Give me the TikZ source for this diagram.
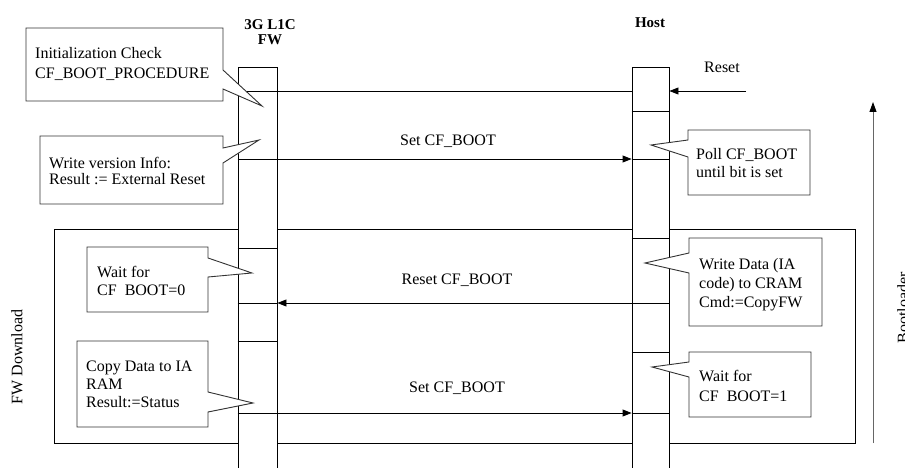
\documentclass[tikz,border=0pt]{standalone}
\usepackage{fontspec}
\setmainfont{Liberation Serif}
\usetikzlibrary{arrows.meta}
\begin{document}
\begin{tikzpicture}[x=1pt,y=-1pt,
  ln/.style={draw=black,line width=0.9pt},
  msg/.style={ln,-{Triangle[length=9pt,width=7pt]}},
  lifebox/.style={draw=black,fill=white,line width=0.9pt,inner sep=0pt,anchor=north,minimum height=420pt},
  callout/.style={draw=black!80,fill=white,line width=0.9pt,line join=miter},
  txt/.style={font=\fontsize{16}{19}\selectfont,inner sep=0pt,anchor=base west},
  lbl/.style={font=\fontsize{16}{19}\selectfont,inner sep=0pt,anchor=base},
  ttl/.style={font=\bfseries\fontsize{15}{17}\selectfont,inner sep=0pt,anchor=base}]
\useasboundingbox (0,0) rectangle (905,468);
\clip (0,0) rectangle (905,468);
\fill[white] (0,0) rectangle (905,468);

% FW Download frame
\draw[ln] (54,229) rectangle (855,443);

% lifelines
\node[lifebox,minimum width=39pt] (fw) at (257.5,67) {};
\node[lifebox,minimum width=37pt] (host) at (650.5,67) {};

% divisions inside lifelines
\foreach \yy in {248,303,341}
  \draw[ln] (fw.west |- 0,\yy) -- (fw.east |- 0,\yy);
\foreach \yy in {111,159,238,303,352,413}
  \draw[ln] (host.west |- 0,\yy) -- (host.east |- 0,\yy);

% titles
\node[ttl] (t1) at (270,30) {3G L1C};
\node[ttl] (t2) at (270,45) {FW};
\node[ttl] (t3) at (650,28) {Host};

% messages
\coordinate (rst) at (746,91);
\draw[msg] (rst) -- (host.east |- rst);
\node[lbl] (lrst) at (722,73) {Reset};
\draw[ln] (host.west |- rst) -- (fw.west |- rst);

\draw[msg] (fw.west |- 0,159) -- (host.west |- 0,159);
\node[lbl] (l1) at (448,146) {Set CF\_BOOT};

\draw[msg] (host.west |- 0,303) -- (fw.east |- 0,303);
\node[lbl] (l2) at (457,284) {Reset CF\_BOOT};

\draw[msg] (fw.west |- 0,413) -- (host.west |- 0,413);
\node[lbl] (l3) at (457,392) {Set CF\_BOOT};

% callouts
\draw[callout] (26,28) -- (223,28) -- (223,70) -- (262,106) -- (223,89) -- (223,101) -- (26,101) -- cycle;
\node[txt] (a1) at (35,59) {Initialization Check};
\node[txt] (a2) at (35,79) {CF\_BOOT\_PROCEDURE};

\draw[callout] (40,136) -- (223,136) -- (223,148) -- (259,140) -- (223,163) -- (223,204) -- (40,204) -- cycle;
\node[txt] (b1) at (49,168) {Write version Info:};
\node[txt] (b2) at (49,185) {Result := External Reset};

\draw[callout] (688,130) -- (810,130) -- (810,195) -- (688,195) -- (688,157) -- (651,145) -- (688,140) -- cycle;
\node[txt] (c1) at (696,160) {Poll CF\_BOOT};
\node[txt] (c2) at (696,177) {until bit is set};

\draw[callout] (87,247) -- (208,247) -- (208,258) -- (252,273) -- (208,277) -- (208,312) -- (87,312) -- cycle;
\node[txt] (d1) at (97,277) {Wait for};
\node[txt] (d2) at (97,295) {CF\ \ BOOT=0};

\draw[callout] (77,341) -- (208,341) -- (208,392) -- (253,403) -- (208,412) -- (208,427) -- (77,427) -- cycle;
\node[txt] (e1) at (86,371) {Copy Data to IA};
\node[txt] (e2) at (86,389) {RAM};
\node[txt] (e3) at (86,407) {Result:=Status};

\draw[callout] (689,238) -- (822,238) -- (822,326) -- (689,326) -- (689,273) -- (645,263) -- (689,253) -- cycle;
\node[txt] (f1) at (699,269) {Write Data (IA};
\node[txt] (f2) at (699,288) {code) to CRAM};
\node[txt] (f3) at (699,307) {Cmd:=CopyFW};

\draw[callout] (689,352) -- (811,352) -- (811,417) -- (689,417) -- (689,377) -- (652,367) -- (689,362) -- cycle;
\node[txt] (g1) at (699,381) {Wait for};
\node[txt] (g2) at (699,401) {CF\ \ BOOT=1};

% side labels
\node[font=\fontsize{16}{19}\selectfont,inner sep=0pt,rotate=90,anchor=center] (fwdl) at (17,357) {FW Download};
\coordinate (bl0) at (873,443);
\coordinate (bl1) at (873,102);
\draw[draw=black!60,line width=0.9pt,-{Triangle[length=10pt,width=7pt,fill=black,color=black]}] (bl0) -- (bl1);
\node[font=\fontsize{16}{19}\selectfont,inner sep=0pt,rotate=90,anchor=north] (boot) at (897,308) {Bootloader};
\end{tikzpicture}
\end{document}
